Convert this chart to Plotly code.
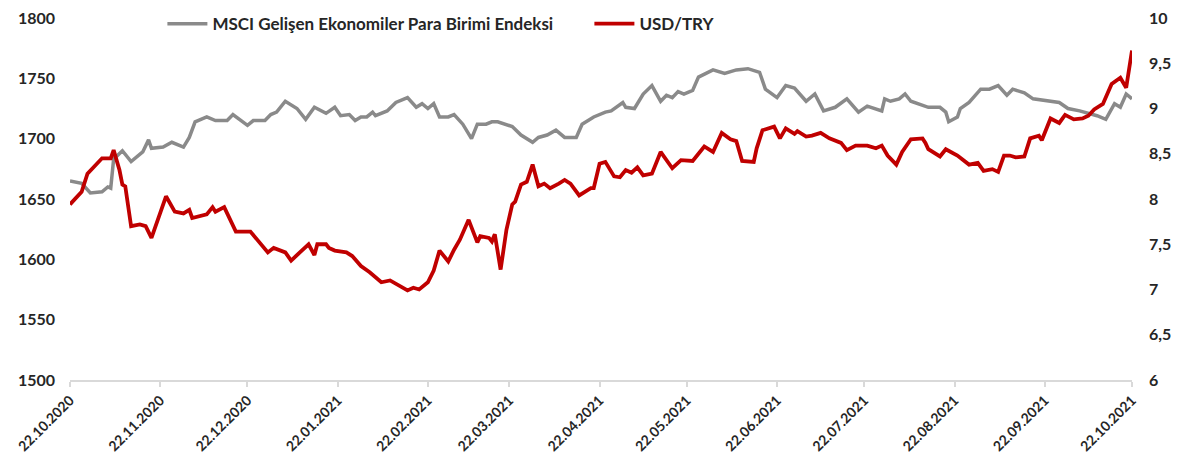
import plotly.graph_objects as go

# ---- data ----
msci_dates = [
    "2020-10-22", "2020-10-26", "2020-10-29", "2020-11-02", "2020-11-04", "2020-11-05", "2020-11-06", "2020-11-09", "2020-11-12", "2020-11-16",
    "2020-11-18", "2020-11-19", "2020-11-23", "2020-11-26", "2020-11-30", "2020-12-02", "2020-12-04", "2020-12-08", "2020-12-11", "2020-12-15",
    "2020-12-17", "2020-12-22", "2020-12-24", "2020-12-28", "2020-12-30", "2021-01-01", "2021-01-04", "2021-01-08", "2021-01-11", "2021-01-14",
    "2021-01-18", "2021-01-21", "2021-01-23", "2021-01-26", "2021-01-28", "2021-01-30", "2021-02-01", "2021-02-03", "2021-02-04", "2021-02-08",
    "2021-02-11", "2021-02-15", "2021-02-18", "2021-02-20", "2021-02-22", "2021-02-24", "2021-02-26", "2021-03-01", "2021-03-03", "2021-03-06",
    "2021-03-09", "2021-03-11", "2021-03-14", "2021-03-16", "2021-03-18", "2021-03-23", "2021-03-26", "2021-03-30", "2021-04-01", "2021-04-04",
    "2021-04-07", "2021-04-10", "2021-04-14", "2021-04-16", "2021-04-20", "2021-04-24", "2021-04-26", "2021-04-30", "2021-05-01", "2021-05-04",
    "2021-05-07", "2021-05-10", "2021-05-13", "2021-05-15", "2021-05-17", "2021-05-19", "2021-05-21", "2021-05-24", "2021-05-26", "2021-05-31",
    "2021-06-04", "2021-06-08", "2021-06-12", "2021-06-16", "2021-06-18", "2021-06-22", "2021-06-25", "2021-06-28", "2021-07-02", "2021-07-05",
    "2021-07-08", "2021-07-12", "2021-07-16", "2021-07-20", "2021-07-23", "2021-07-26", "2021-07-28", "2021-07-29", "2021-07-31", "2021-08-03",
    "2021-08-05", "2021-08-07", "2021-08-13", "2021-08-17", "2021-08-19", "2021-08-20", "2021-08-23", "2021-08-24", "2021-08-27", "2021-08-31",
    "2021-09-03", "2021-09-06", "2021-09-09", "2021-09-11", "2021-09-15", "2021-09-18", "2021-09-23", "2021-09-27", "2021-09-30", "2021-10-04",
    "2021-10-10", "2021-10-13", "2021-10-16", "2021-10-18", "2021-10-20", "2021-10-22",
]
msci_values = [
    1665, 1663, 1655, 1656, 1660, 1659, 1683, 1690, 1681, 1689,
    1699, 1692, 1693, 1697, 1693, 1701, 1714, 1718, 1715, 1715,
    1720, 1711, 1715, 1715, 1720, 1722, 1731, 1725, 1716, 1726,
    1721, 1726, 1719, 1720, 1715, 1718, 1718, 1722, 1719, 1723,
    1730, 1734, 1726, 1729, 1725, 1729, 1718, 1718, 1720, 1712,
    1700, 1712, 1712, 1714, 1714, 1710, 1703, 1697, 1701, 1703,
    1707, 1701, 1701, 1712, 1718, 1722, 1723, 1730, 1726, 1725,
    1737, 1744, 1731, 1736, 1734, 1739, 1737, 1740, 1751, 1757,
    1754, 1757, 1758, 1755, 1741, 1734, 1744, 1742, 1731, 1737,
    1723, 1726, 1733, 1722, 1727, 1725, 1723, 1733, 1731, 1733,
    1737, 1731, 1726, 1726, 1722, 1714, 1718, 1725, 1730, 1741,
    1741, 1744, 1736, 1741, 1738, 1733, 1731, 1730, 1725, 1723,
    1719, 1716, 1729, 1726, 1737, 1733,
]

usdtry_dates = [
    "2020-10-22", "2020-10-26", "2020-10-28", "2020-11-02", "2020-11-05", "2020-11-06", "2020-11-08", "2020-11-09", "2020-11-10", "2020-11-12",
    "2020-11-15", "2020-11-17", "2020-11-19", "2020-11-22", "2020-11-24", "2020-11-27", "2020-11-30", "2020-12-02", "2020-12-03", "2020-12-08",
    "2020-12-10", "2020-12-11", "2020-12-14", "2020-12-18", "2020-12-23", "2020-12-29", "2020-12-31", "2021-01-04", "2021-01-06", "2021-01-09",
    "2021-01-12", "2021-01-14", "2021-01-15", "2021-01-18", "2021-01-19", "2021-01-21", "2021-01-25", "2021-01-27", "2021-01-30", "2021-02-02",
    "2021-02-06", "2021-02-09", "2021-02-12", "2021-02-15", "2021-02-17", "2021-02-19", "2021-02-22", "2021-02-24", "2021-02-26", "2021-03-01",
    "2021-03-03", "2021-03-05", "2021-03-08", "2021-03-11", "2021-03-12", "2021-03-15", "2021-03-16", "2021-03-17", "2021-03-19", "2021-03-21",
    "2021-03-23", "2021-03-24", "2021-03-26", "2021-03-28", "2021-03-30", "2021-04-01", "2021-04-03", "2021-04-05", "2021-04-08", "2021-04-10",
    "2021-04-12", "2021-04-15", "2021-04-19", "2021-04-20", "2021-04-22", "2021-04-24", "2021-04-27", "2021-04-29", "2021-05-01", "2021-05-03",
    "2021-05-05", "2021-05-07", "2021-05-10", "2021-05-13", "2021-05-17", "2021-05-20", "2021-05-24", "2021-05-26", "2021-05-28", "2021-05-31",
    "2021-06-03", "2021-06-06", "2021-06-08", "2021-06-10", "2021-06-14", "2021-06-15", "2021-06-17", "2021-06-21", "2021-06-23", "2021-06-25",
    "2021-06-28", "2021-06-29", "2021-07-02", "2021-07-04", "2021-07-07", "2021-07-10", "2021-07-14", "2021-07-16", "2021-07-19", "2021-07-23",
    "2021-07-26", "2021-07-28", "2021-07-30", "2021-08-02", "2021-08-04", "2021-08-07", "2021-08-11", "2021-08-12", "2021-08-13", "2021-08-17",
    "2021-08-19", "2021-08-23", "2021-08-27", "2021-08-30", "2021-09-01", "2021-09-04", "2021-09-06", "2021-09-08", "2021-09-10", "2021-09-12",
    "2021-09-15", "2021-09-17", "2021-09-20", "2021-09-21", "2021-09-24", "2021-09-27", "2021-09-29", "2021-10-02", "2021-10-05", "2021-10-07",
    "2021-10-09", "2021-10-12", "2021-10-15", "2021-10-18", "2021-10-20", "2021-10-22",
]
usdtry_values = [
    7.94, 8.08, 8.28, 8.45, 8.45, 8.54, 8.32, 8.16, 8.14, 7.70,
    7.72, 7.70, 7.57, 7.83, 8.03, 7.86, 7.84, 7.88, 7.79, 7.83,
    7.91, 7.86, 7.91, 7.64, 7.64, 7.41, 7.46, 7.41, 7.32, 7.41,
    7.50, 7.38, 7.50, 7.50, 7.46, 7.43, 7.41, 7.37, 7.26, 7.19,
    7.08, 7.10, 7.04, 6.99, 7.02, 7.00, 7.08, 7.21, 7.43, 7.31,
    7.44, 7.55, 7.77, 7.52, 7.59, 7.57, 7.53, 7.61, 7.22, 7.66,
    7.94, 7.97, 8.16, 8.19, 8.38, 8.14, 8.17, 8.12, 8.17, 8.21,
    8.17, 8.04, 8.12, 8.12, 8.39, 8.41, 8.25, 8.24, 8.32, 8.29,
    8.35, 8.26, 8.28, 8.52, 8.34, 8.43, 8.42, 8.50, 8.58, 8.52,
    8.73, 8.66, 8.64, 8.42, 8.41, 8.56, 8.76, 8.80, 8.67, 8.78,
    8.72, 8.75, 8.69, 8.70, 8.73, 8.67, 8.62, 8.54, 8.59, 8.59,
    8.56, 8.59, 8.48, 8.38, 8.52, 8.66, 8.67, 8.62, 8.55, 8.47,
    8.55, 8.48, 8.38, 8.40, 8.31, 8.33, 8.30, 8.48, 8.48, 8.46,
    8.47, 8.67, 8.70, 8.65, 8.89, 8.84, 8.93, 8.88, 8.89, 8.92,
    8.99, 9.05, 9.27, 9.34, 9.23, 9.64,
]

x_tick_dates = ["2020-10-22", "2020-11-22", "2020-12-22", "2021-01-22", "2021-02-22", "2021-03-22",
                "2021-04-22", "2021-05-22", "2021-06-22", "2021-07-22", "2021-08-22", "2021-09-22", "2021-10-22"]
x_tick_labels = ["22.10.2020", "22.11.2020", "22.12.2020", "22.01.2021", "22.02.2021", "22.03.2021",
                 "22.04.2021", "22.05.2021", "22.06.2021", "22.07.2021", "22.08.2021", "22.09.2021", "22.10.2021"]
left_ticks = [1500, 1550, 1600, 1650, 1700, 1750, 1800]
left_labels = ["1500", "1550", "1600", "1650", "1700", "1750", "1800"]
right_ticks = [6, 6.5, 7, 7.5, 8, 8.5, 9, 9.5, 10]
right_labels = ["6", "6,5", "7", "7,5", "8", "8,5", "9", "9,5", "10"]

name_msci = "MSCI Gelişen Ekonomiler Para Birimi Endeksi"
name_usd = "USD/TRY"

FONT = "Lato"
TXT = "#262626"

fig = go.Figure()
fig.add_trace(go.Scatter(x=msci_dates, y=msci_values, name=name_msci, mode="lines",
                         line=dict(color="#8a8a8a", width=3.5), yaxis="y"))
fig.add_trace(go.Scatter(x=usdtry_dates, y=usdtry_values, name=name_usd, mode="lines",
                         line=dict(color="#c00000", width=3.8), yaxis="y2"))

# page body has an 8px margin, so the figure is sized to fit the 1180x472 window
fig.update_layout(
    width=1164, height=456,
    margin=dict(l=62, r=40, t=10, b=84, autoexpand=False),
    paper_bgcolor="white", plot_bgcolor="white",
    font=dict(family=FONT, color=TXT),
    showlegend=True,
    legend=dict(orientation="h", x=0.087, y=0.983, xanchor="left", yanchor="middle",
                font=dict(family=FONT, size=17, color=TXT, weight="bold"),
                bgcolor="rgba(0,0,0,0)", itemwidth=40,
                entrywidth=372, entrywidthmode="pixels"),
    xaxis=dict(type="date", range=["2020-10-22", "2021-10-22"], automargin=False,
               tickvals=x_tick_dates, ticktext=x_tick_labels, tickangle=-45,
               tickfont=dict(family=FONT, size=14, color=TXT, weight="bold"),
               showgrid=False, zeroline=False, ticklabeloverflow="allow",
               showline=True, linecolor="#d9d9d9", linewidth=1.5,
               ticks="outside", ticklen=5, tickcolor="#d9d9d9", tickwidth=1.5),
    yaxis=dict(range=[1500, 1800], tickvals=left_ticks, ticktext=left_labels, automargin=False,
               tickfont=dict(family=FONT, size=16, color=TXT, weight="bold"),
               showgrid=False, zeroline=False, showline=False, ticks="",
               ticklabeloverflow="allow", ticklabelstandoff=14),
    yaxis2=dict(range=[6, 10], tickvals=right_ticks, ticktext=right_labels, automargin=False,
                overlaying="y", side="right",
                tickfont=dict(family=FONT, size=16, color=TXT, weight="bold"),
                showgrid=False, zeroline=False, showline=False, ticks="",
                ticklabeloverflow="allow", ticklabelstandoff=16),
)

fig.write_html("out.html")
